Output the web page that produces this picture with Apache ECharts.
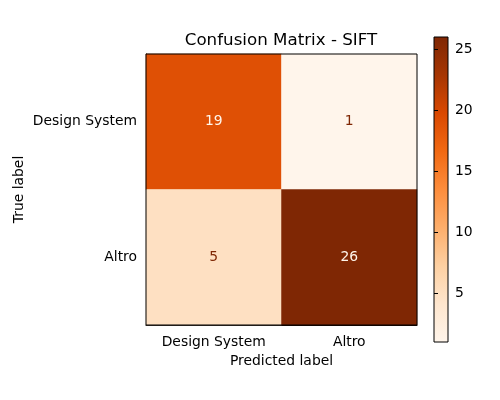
<!DOCTYPE html>
<html>
<head>
<meta charset="utf-8">
<script src="https://cdn.jsdelivr.net/npm/echarts@6/dist/echarts.min.js"></script>
<style>html,body{margin:0;padding:0;background:#fff}#c{width:500px;height:400px}</style>
</head>
<body>
<div id="c"></div>
<script>
const predictedLabels = ['Design System', 'Altro'];
const trueLabels = ['Design System', 'Altro'];
// rows = true label, cols = predicted label
const matrixRow0 = [19, 1];
const matrixRow1 = [5, 26];
const colorbarTicks = [5, 10, 15, 20, 25];
const vMin = 1, vMax = 26;

const orangeStops = ['#fff5eb','#fee6ce','#fdd0a2','#fdae6b','#fd8d3c','#f16913','#d94801','#a63603','#7f2704'];
const FONT = 'DejaVu Sans';
const FS = 13.9;
const rows = [matrixRow0, matrixRow1];
const thresh = (vMin + vMax) / 2;
const data = [];
rows.forEach((row, r) => row.forEach((v, c) => {
  data.push({
    value: [c, r, v],
    label: { color: v > thresh ? orangeStops[0] : orangeStops[8] }
  });
}));

const chart = echarts.init(document.getElementById('c'), null, {renderer: 'canvas'});
chart.setOption({
  animation: false,
  backgroundColor: '#fff',
  title: {
    text: 'Confusion Matrix - SIFT',
    left: 281, top: 32, padding: 0, textAlign: 'center',
    textStyle: { fontFamily: FONT, fontSize: 16.7, fontWeight: 'normal', color: '#000' }
  },
  grid: [
    { left: 146, top: 54, width: 271, height: 271, show: true, borderColor: '#000', borderWidth: 1, backgroundColor: 'transparent', z: 5 },
    { left: 434, top: 37, width: 14, height: 305, show: true, borderColor: '#000', borderWidth: 1,
      backgroundColor: new echarts.graphic.LinearGradient(0, 1, 0, 0,
        orangeStops.map((c, i) => ({ offset: i / (orangeStops.length - 1), color: c }))) }
  ],
  xAxis: [
    { type: 'category', gridIndex: 0, data: predictedLabels,
      name: 'Predicted label', nameLocation: 'middle', nameGap: 29, nameMoveOverlap: false,
      nameTextStyle: { fontFamily: FONT, fontSize: FS, color: '#000' },
      axisLine: { lineStyle: { color: '#000' } },
      axisTick: { alignWithLabel: true, length: 4, lineStyle: { color: '#000' } },
      axisLabel: { fontFamily: FONT, fontSize: FS, color: '#000', margin: 10 },
      splitLine: { show: false } },
    { type: 'value', gridIndex: 1, show: false, min: 0, max: 1 }
  ],
  yAxis: [
    { type: 'category', gridIndex: 0, data: trueLabels, inverse: true,
      name: 'True label', nameLocation: 'middle', nameGap: 120, nameRotate: 90, nameMoveOverlap: false,
      nameTextStyle: { fontFamily: FONT, fontSize: FS, color: '#000' },
      axisLine: { lineStyle: { color: '#000' } },
      axisTick: { alignWithLabel: true, length: 4, lineStyle: { color: '#000' } },
      axisLabel: { fontFamily: FONT, fontSize: FS, color: '#000', margin: 9, padding: [3, 0, 0, 0] },
      splitLine: { show: false } },
    { type: 'value', gridIndex: 1, position: 'right', min: vMin, max: vMax,
      axisLine: { show: false },
      axisTick: { show: true, length: 4, inside: false, customValues: colorbarTicks, lineStyle: { color: '#000' } },
      axisLabel: { fontFamily: FONT, fontSize: FS, color: '#000', margin: 7, padding: [2, 0, 0, 0], customValues: colorbarTicks },
      splitLine: { show: false } }
  ],
  visualMap: {
    show: false, type: 'continuous', min: vMin, max: vMax, dimension: 2, seriesIndex: 0,
    inRange: { color: orangeStops }
  },
  series: [{
    type: 'heatmap', xAxisIndex: 0, yAxisIndex: 0, data: data,
    label: { show: true, fontFamily: FONT, fontSize: FS, padding: [2, 0, 0, 0],
      formatter: p => String(p.value[2]) },
    itemStyle: { borderWidth: 0 },
    emphasis: { disabled: true }
  }]
});
</script>
</body>
</html>
